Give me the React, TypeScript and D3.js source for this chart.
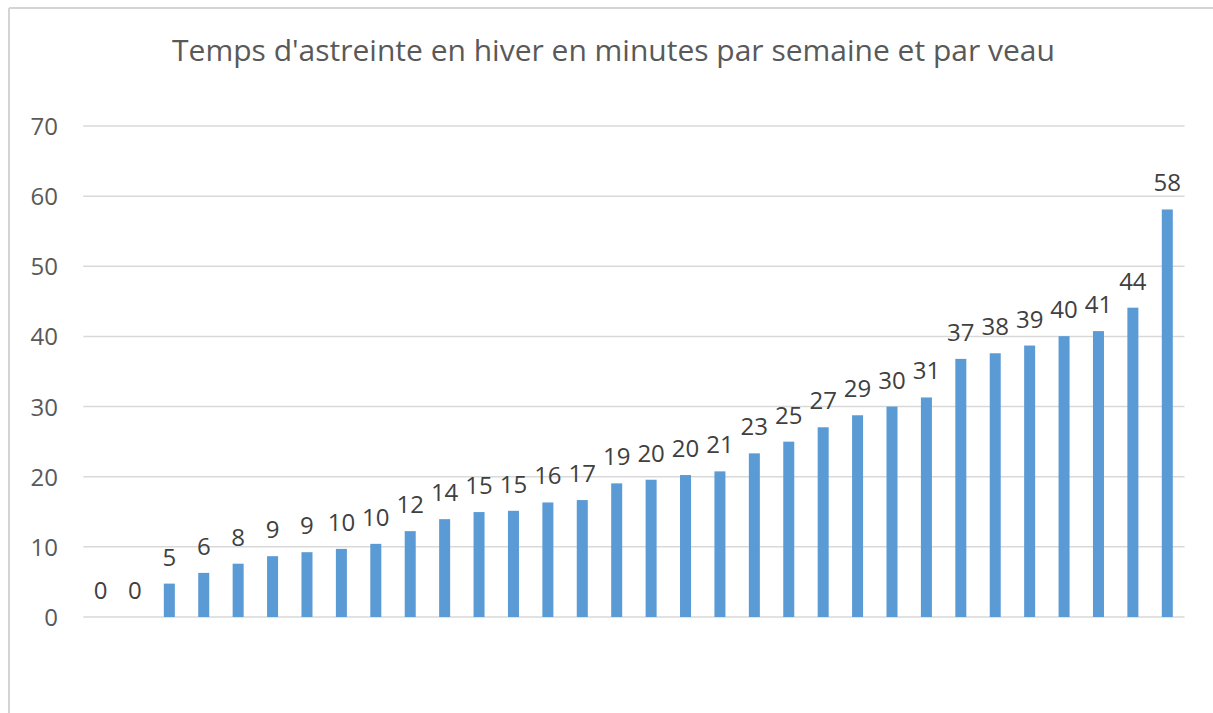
import React from 'react';
import * as d3 from 'd3';

const title = "Temps d'astreinte en hiver en minutes par semaine et par veau";
const categories = d3.range(1, 33).map(String);
const values = [
  0, 0, 4.76, 6.29, 7.6, 8.67, 9.24, 9.71, 10.43, 12.24,
  13.95, 14.96, 15.14, 16.33, 16.67, 19.05, 19.57, 20.24, 20.76, 23.33,
  25.0, 27.05, 28.76, 30.0, 31.3, 36.8, 37.6, 38.7, 40.04, 40.76,
  44.1, 58.1,
];
const yTicks = [0, 10, 20, 30, 40, 50, 60, 70];

const W = 1213;
const H = 713;
const font = "'Open Sans', 'Noto Sans', sans-serif";

const App = () => {
  const x = d3
    .scaleBand()
    .domain(categories)
    .range([83.3, 1184.5])
    .paddingInner(0.68)
    .paddingOuter(0.34);
  const y = d3.scaleLinear().domain([0, 70]).range([617, 126]);
  const format = d3.format('.0f');

  return (
    <div style={{ position: 'absolute', left: 0, top: 0 }}>
      <svg width={W} height={H} style={{ display: 'block', background: '#fff' }}>
        {/* frame */}
        <line x1={9} y1={8} x2={W} y2={8} stroke="#d4d4d4" strokeWidth={2} />
        <line x1={9} y1={8} x2={9} y2={H} stroke="#d4d4d4" strokeWidth={2} />

        <text
          x={613.5}
          y={61}
          textAnchor="middle"
          fontFamily={font}
          fontSize={30}
          fill="#595959"
        >
          {title}
        </text>

        {yTicks.map(t => (
          <g key={t}>
            <line x1={83.3} x2={1184.5} y1={y(t)} y2={y(t)} stroke="#d9d9d9" strokeWidth={1.5} />
            <text
              x={58}
              y={y(t) + 9}
              textAnchor="end"
              fontFamily={font}
              fontSize={24}
              fill="#595959"
            >
              {t}
            </text>
          </g>
        ))}

        {values.map((v, i) => {
          const bx = x(categories[i]) as number;
          return (
            <g key={i}>
              {v > 0 && (
                <rect
                  x={bx}
                  y={y(v)}
                  width={x.bandwidth()}
                  height={y(0) - y(v)}
                  fill="#5b9bd5"
                />
              )}
              <text
                x={bx + x.bandwidth() / 2}
                y={y(v) - 18}
                textAnchor="middle"
                fontFamily={font}
                fontSize={24}
                fill="#404040"
              >
                {format(v)}
              </text>
            </g>
          );
        })}
      </svg>
    </div>
  );
};

export default App;
